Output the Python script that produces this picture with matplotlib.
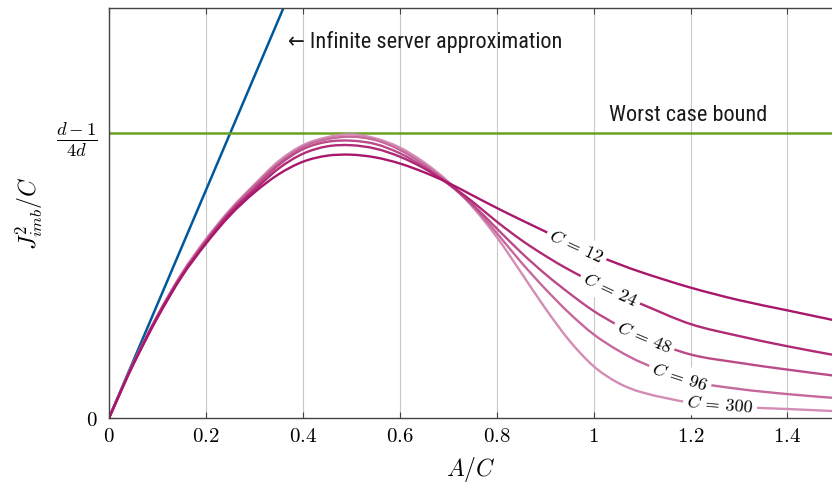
import numpy as np
import matplotlib
matplotlib.use('Agg')
import matplotlib.pyplot as plt
from matplotlib.path import Path
from matplotlib.patches import PathPatch

plt.rcParams['mathtext.fontset'] = 'cm'
plt.rcParams['font.family'] = ['DejaVu Sans']

# valeurs
A_C = [0, 0.025, 0.05, 0.1, 0.15, 0.2, 0.25, 0.3, 0.35, 0.4, 0.45, 0.5, 0.55,
       0.6, 0.65, 0.7, 0.75, 0.8, 0.85, 0.9, 0.95, 1.0, 1.05, 1.1, 1.2, 1.3,
       1.4, 1.5]

J_c12 = [0, 0.024, 0.047, 0.088, 0.124, 0.153, 0.178, 0.198, 0.214, 0.225,
         0.2303, 0.2312, 0.2288, 0.2235, 0.2158, 0.2065, 0.1955, 0.1845, 0.174,
         0.1638, 0.1535, 0.144, 0.1355, 0.1278, 0.1145, 0.1035, 0.0945, 0.0855]
J_c24 = [0, 0.024, 0.047, 0.089, 0.125, 0.154, 0.18, 0.2, 0.219, 0.232,
         0.2385, 0.2395, 0.2365, 0.2295, 0.2192, 0.2058, 0.19, 0.1725, 0.1565,
         0.1425, 0.13, 0.119, 0.1088, 0.0998, 0.0825, 0.072, 0.063, 0.055]
J_c48 = [0, 0.024, 0.048, 0.089, 0.125, 0.155, 0.181, 0.202, 0.222, 0.236,
         0.2425, 0.2435, 0.2405, 0.2325, 0.2205, 0.2055, 0.1875, 0.1665, 0.1455,
         0.1265, 0.1095, 0.094, 0.0815, 0.071, 0.0558, 0.0485, 0.0425, 0.037]
J_c96 = [0, 0.024, 0.048, 0.09, 0.126, 0.156, 0.182, 0.204, 0.2235, 0.238,
         0.2448, 0.247, 0.244, 0.2355, 0.2225, 0.2065, 0.1865, 0.1625, 0.137,
         0.1135, 0.092, 0.0735, 0.0595, 0.0485, 0.0325, 0.0255, 0.021, 0.0175]
J_c300 = [0, 0.024, 0.048, 0.09, 0.127, 0.157, 0.183, 0.205, 0.2255, 0.2395,
          0.2465, 0.249, 0.2455, 0.2375, 0.2245, 0.2075, 0.1855, 0.159, 0.128,
          0.0965, 0.068, 0.0455, 0.031, 0.0225, 0.0135, 0.0098, 0.0079, 0.006]

courbes = [J_c12, J_c24, J_c48, J_c96, J_c300]
noms_C = ['12', '24', '48', '96', '300']
pos_labels = [0.965, 1.034, 1.104, 1.178, 1.261]
couleurs = ['#a8176b', '#b02a76', '#bb4a88', '#c6689b', '#d48cb5']

inf_x = [0, 0.4]
inf_y = [0, 0.4]
borne = 0.25


def chemin_lisse(xs, ys):
    # courbe de Bezier passant par les points lus (pentes par differences)
    xs = np.asarray(xs, float)
    ys = np.asarray(ys, float)
    n = len(xs)
    m = np.zeros(n)
    m[0] = (ys[1] - ys[0]) / (xs[1] - xs[0])
    m[-1] = (ys[-1] - ys[-2]) / (xs[-1] - xs[-2])
    for k in range(1, n - 1):
        m[k] = (ys[k + 1] - ys[k - 1]) / (xs[k + 1] - xs[k - 1])
    verts = [(xs[0], ys[0])]
    codes = [Path.MOVETO]
    for k in range(n - 1):
        h = xs[k + 1] - xs[k]
        verts += [(xs[k] + h / 3, ys[k] + m[k] * h / 3),
                  (xs[k + 1] - h / 3, ys[k + 1] - m[k + 1] * h / 3),
                  (xs[k + 1], ys[k + 1])]
        codes += [Path.CURVE4] * 3
    return Path(verts, codes)


fig = plt.figure(figsize=(8.32, 4.88), dpi=100)
ax = fig.add_axes([109 / 832, 70 / 488, 723 / 832, 410 / 488])
ax.set_xlim(0, 1.492)
ax.set_ylim(0, 0.36)

ax.grid(True, axis='x', color='#c8c8c8', linewidth=0.8)
ax.set_axisbelow(True)

ax.plot(inf_x, inf_y, color='#00589c', linewidth=1.8, zorder=3)
ax.axhline(borne, color='#6aa121', linewidth=1.8, zorder=3)

# du plus clair au plus fonce
for i in range(len(courbes) - 1, -1, -1):
    ax.add_patch(PathPatch(chemin_lisse(A_C, courbes[i]), fill=False,
                           edgecolor=couleurs[i], linewidth=1.7, zorder=4))

fig.canvas.draw()
for i in range(len(courbes)):
    xl = pos_labels[i]
    yl = np.interp(xl, A_C, courbes[i])
    p1 = ax.transData.transform((xl - 0.04, np.interp(xl - 0.04, A_C, courbes[i])))
    p2 = ax.transData.transform((xl + 0.04, np.interp(xl + 0.04, A_C, courbes[i])))
    angle = np.degrees(np.arctan2(p2[1] - p1[1], p2[0] - p1[0]))
    ax.text(xl, yl, r'$C\,=\,' + noms_C[i] + '$', fontsize=13, rotation=angle,
            rotation_mode='anchor', ha='center', va='center', zorder=5,
            bbox=dict(boxstyle='square,pad=0.2', fc='white', ec='none'))

police = ['Roboto Condensed', 'Liberation Sans Narrow', 'DejaVu Sans']
ax.text(0.37, 0.330, '\u2190 Infinite server approximation', fontsize=16,
        family=police, fontstretch='condensed',
        va='center', ha='left', color='#1a1a1a')
ax.text(1.358, 0.266, 'Worst case bound', fontsize=16,
        family=police, fontstretch='condensed',
        va='center', ha='right', color='#1a1a1a')

xt = [0, 0.2, 0.4, 0.6, 0.8, 1.0, 1.2, 1.4]
xt_labels = ['$0$', '$0.2$', '$0.4$', '$0.6$', '$0.8$', '$1$', '$1.2$', '$1.4$']
ax.set_xticks(xt)
ax.set_xticklabels(xt_labels, fontsize=15)
ax.set_yticks([0, borne])
ax.set_yticklabels(['$0$', r'$\frac{d-1}{4d}$'], fontsize=15)
ax.get_yticklabels()[1].set_fontsize(19)
ax.tick_params(direction='in', length=4, top=True, color='#444444')
ax.tick_params(axis='x', pad=6)
ax.tick_params(axis='y', pad=8)

for s in ['left', 'bottom', 'top']:
    ax.spines[s].set_color('#444444')
    ax.spines[s].set_linewidth(1.0)
    ax.spines[s].set_zorder(6)
ax.spines['right'].set_visible(False)

ax.set_xlabel('$A/C$', fontsize=17, labelpad=6)
ax.set_ylabel('$J^2_{imb}/C$', fontsize=17, labelpad=8)

fig.savefig('out.png', dpi=100)
